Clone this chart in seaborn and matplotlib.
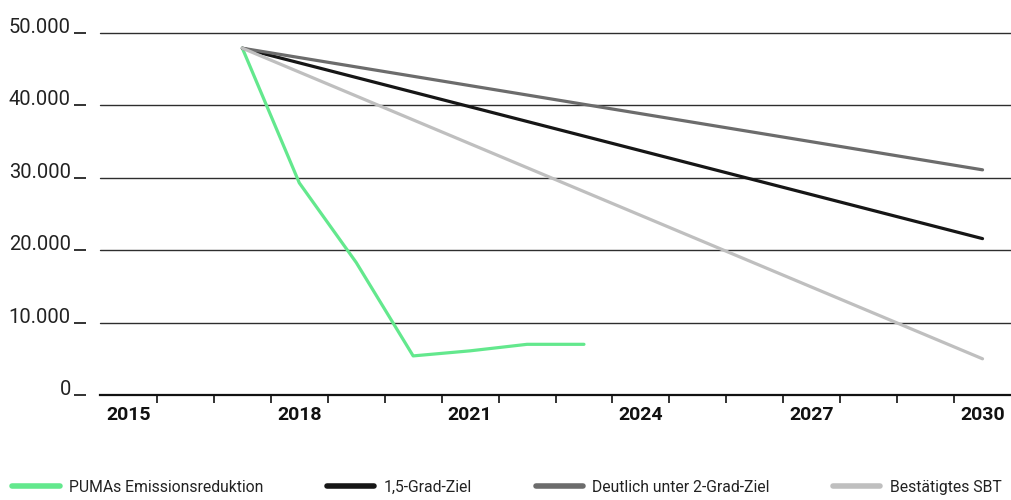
import pandas as pd
import matplotlib
matplotlib.use('Agg')
import matplotlib.pyplot as plt
import seaborn as sns

# Daten (Emissionen)
puma_years = [2017, 2018, 2019, 2020, 2021, 2022, 2023]
puma_values = [47900, 29300, 18300, 5400, 6100, 7000, 7000]
target_years = [2017, 2030]
ziel_15 = [47900, 21600]
ziel_2 = [47900, 31100]
sbt = [47900, 5000]

series_names = ['PUMAs Emissionsreduktion', '1,5-Grad-Ziel',
                'Deutlich unter 2-Grad-Ziel', 'Bestätigtes SBT']
series_colors = ['#63e88d', '#161616', '#6c6c6c', '#bfbfbf']

y_ticks = [0, 10000, 20000, 30000, 40000, 50000]
y_labels = ['0', '10.000', '20.000', '30.000', '40.000', '50.000']
x_labels = [2015, 2018, 2021, 2024, 2027, 2030]


def main():
    sns.set_theme(style='white')
    plt.rcParams['font.family'] = ['Roboto', 'DejaVu Sans']

    df = pd.concat([
        pd.DataFrame({'Jahr': puma_years, 'Wert': puma_values, 'Reihe': series_names[0]}),
        pd.DataFrame({'Jahr': target_years, 'Wert': ziel_15, 'Reihe': series_names[1]}),
        pd.DataFrame({'Jahr': target_years, 'Wert': ziel_2, 'Reihe': series_names[2]}),
        pd.DataFrame({'Jahr': target_years, 'Wert': sbt, 'Reihe': series_names[3]}),
    ])

    fig = plt.figure(figsize=(10.11, 5.0), dpi=100)
    ax = fig.add_axes([100 / 1011, 1 - 395 / 500, 911 / 1011, 362 / 500])

    sns.lineplot(data=df, x='Jahr', y='Wert', hue='Reihe', hue_order=series_names,
                 palette=series_colors, linewidth=2.3, ax=ax, sort=False)

    # Achsen
    ax.set_xlim(2014.5, 2030.5)
    ax.set_ylim(0, 50000)
    ax.set_xlabel('')
    ax.set_ylabel('')
    for s in ['top', 'right', 'left']:
        ax.spines[s].set_visible(False)
    ax.spines['left'].set_position(('outward', 10))  # vor den Labels, setzt Ticks zurueck
    ax.spines['bottom'].set_color('#111111')
    ax.spines['bottom'].set_linewidth(1.6)

    # horizontale Linien
    for y in y_ticks[1:]:
        ax.axhline(y, color='#2e2e2e', linewidth=1.0, zorder=0, clip_on=False)

    ax.tick_params(axis='y', which='major', left=True, length=9, width=1.3,
                   color='#222222', pad=2, labelsize=14.5, labelcolor='#222222')
    ax.set_yticks(y_ticks)
    ax.set_yticklabels(y_labels)
    for lab in ax.get_yticklabels():
        lab.set_verticalalignment('baseline')

    ax.tick_params(axis='x', which='major', length=0, pad=8)
    ax.tick_params(axis='x', which='minor', bottom=True, length=6, width=1.2,
                   color='#111111')
    ax.set_xticks(x_labels)
    ax.set_xticklabels([str(x) for x in x_labels], fontsize=14, fontweight='bold',
                       color='#111111')
    ax.set_xticks([y + 0.5 for y in range(2015, 2030)], minor=True)

    # Legende unten
    handles, labels = ax.get_legend_handles_labels()
    ax.get_legend().remove()
    for h in handles:
        h.set_linewidth(4)
    fig.legend(handles, labels, loc='lower left', ncol=4, mode='expand',
               bbox_to_anchor=(0.003, -0.008, 0.997, 0.05), frameon=False,
               fontsize=11.3, handlelength=3.0, handletextpad=0.6,
               labelcolor='#222222', borderaxespad=0.2)

    fig.savefig('out.png', dpi=100)


if __name__ == '__main__':
    main()
